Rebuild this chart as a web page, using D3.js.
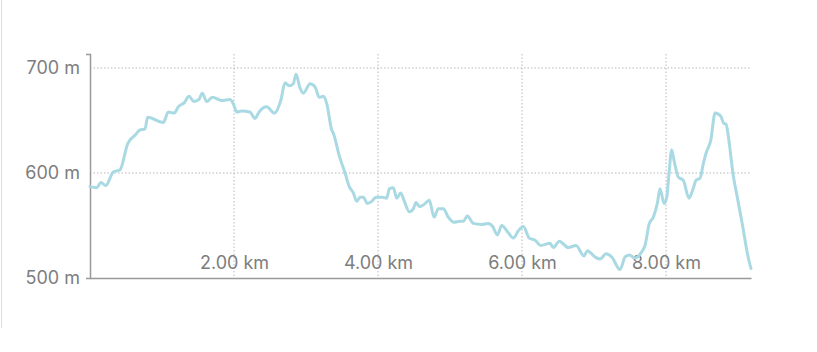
<!DOCTYPE html>
<html>
<head>
<meta charset="utf-8">
<script src="https://cdn.jsdelivr.net/npm/d3@7"></script>
<style>
  body { margin: 0; background: #fff; }
  svg text { font-family: Inter, "Liberation Sans", sans-serif; fill: #7d7d7d; }
</style>
</head>
<body>
<svg id="chart" width="817" height="352"></svg>
<script>
// distance along the route (km) and elevation (m)
const distanceKm = [
  0, 0.093, 0.153, 0.218, 0.324, 0.417, 0.524, 0.625, 0.694, 0.764,
  0.801, 1.018, 1.088, 1.171, 1.226, 1.31, 1.375, 1.444, 1.514, 1.56,
  1.621, 1.699, 1.829, 1.944, 1.99, 2.038, 2.107, 2.222, 2.292, 2.347,
  2.454, 2.56, 2.653, 2.708, 2.764, 2.824, 2.861, 2.917, 2.963, 3.056,
  3.125, 3.185, 3.24, 3.288, 3.357, 3.379, 3.463, 3.542, 3.601, 3.657,
  3.704, 3.75, 3.796, 3.851, 3.913, 3.972, 4.051, 4.121, 4.157, 4.213,
  4.26, 4.315, 4.361, 4.435, 4.49, 4.528, 4.574, 4.639, 4.713, 4.778,
  4.838, 4.907, 4.976, 5.056, 5.139, 5.185, 5.24, 5.324, 5.44, 5.532,
  5.593, 5.657, 5.718, 5.81, 5.879, 5.949, 6.018, 6.101, 6.181, 6.26,
  6.389, 6.435, 6.518, 6.643, 6.75, 6.861, 6.907, 7.014, 7.083, 7.167,
  7.246, 7.361, 7.431, 7.49, 7.569, 7.663, 7.708, 7.768, 7.824, 7.879,
  7.917, 7.972, 8.01, 8.042, 8.079, 8.111, 8.171, 8.24, 8.319, 8.371,
  8.417, 8.472, 8.518, 8.556, 8.621, 8.681, 8.76, 8.806, 8.833, 8.865,
  8.935, 8.99, 9.065, 9.143, 9.18
];
const elevationM = [
  587, 586, 591, 588, 601, 603, 628, 636, 641, 642,
  653, 648, 658, 657, 663, 667, 673, 668, 670, 676,
  668, 672, 669, 670, 666, 658, 659, 658, 652, 658,
  663, 657, 670, 686, 683, 685, 694, 681, 676, 685,
  682, 672, 673, 666, 641, 638, 616, 600, 587, 581,
  573, 577, 577, 571, 573, 577, 577, 576, 585, 586,
  576, 581, 574, 563, 566, 572, 568, 570, 574, 558,
  566, 566, 558, 553, 554, 554, 559, 552, 551, 552,
  549, 541, 550, 543, 538, 545, 549, 538, 536, 531,
  533, 529, 535, 529, 531, 521, 526, 520, 518, 523,
  520, 508, 520, 522, 519, 525, 531, 552, 558, 571,
  585, 571, 577, 600, 622, 612, 596, 593, 576, 584,
  593, 595, 609, 619, 631, 657, 654, 647, 647, 635,
  597, 577, 549, 519, 509
];
const xTicks = [2, 4, 6, 8];
const yTicks = [500, 600, 700];
const xDomain = [0, 9.18];
const yDomain = [500, 713.3];

const margin = { top: 54, right: 66, bottom: 74, left: 90 };
const svg = d3.select('#chart');
const width = +svg.attr('width') - margin.left - margin.right;
const height = +svg.attr('height') - margin.top - margin.bottom;

// thin frame line on the left edge of the card
svg.append('line')
  .attr('x1', 1.5).attr('x2', 1.5)
  .attr('y1', 0).attr('y2', 328)
  .attr('stroke', '#dcdcdc');

const g = svg.append('g').attr('transform', `translate(${margin.left},${margin.top})`);

const x = d3.scaleLinear().domain(xDomain).range([0, width]);
const y = d3.scaleLinear().domain(yDomain).range([height, 0]);

// grid
g.append('g')
  .selectAll('line')
  .data(yTicks.filter((d) => d > yDomain[0]))
  .join('line')
  .attr('x1', 0).attr('x2', width)
  .attr('y1', (d) => y(d)).attr('y2', (d) => y(d))
  .attr('stroke', '#b8b8b8')
  .attr('stroke-dasharray', '1.5,2');

g.append('g')
  .selectAll('line')
  .data(xTicks)
  .join('line')
  .attr('x1', (d) => x(d)).attr('x2', (d) => x(d))
  .attr('y1', 0).attr('y2', height)
  .attr('stroke', '#b8b8b8')
  .attr('stroke-dasharray', '1.5,2');

// y axis
const yAxis = g.append('g')
  .call(d3.axisLeft(y).tickValues(yTicks).tickSizeInner(0).tickSizeOuter(4).tickPadding(10)
    .tickFormat((d) => `${d} m`));
yAxis.select('.domain').attr('stroke', '#999').attr('stroke-width', 1.5);
yAxis.selectAll('text').attr('font-size', 18).attr('fill', '#7d7d7d');

// x axis, labels sit above the baseline
const xAxis = g.append('g')
  .attr('transform', `translate(0,${height})`)
  .call(d3.axisTop(x).tickValues(xTicks).tickSizeInner(0).tickSizeOuter(0).tickPadding(9)
    .tickFormat((d) => `${d.toFixed(2)} km`));
xAxis.select('.domain').attr('stroke', '#999').attr('stroke-width', 1.5);
xAxis.selectAll('text').attr('font-size', 18).attr('fill', '#7d7d7d');

// elevation profile
const line = d3.line()
  .x((d, i) => x(distanceKm[i]))
  .y((d) => y(d))
  .curve(d3.curveMonotoneX);

g.append('path')
  .datum(elevationM)
  .attr('fill', 'none')
  .attr('stroke', '#a9dae3')
  .attr('stroke-width', 3)
  .attr('stroke-linejoin', 'round')
  .attr('stroke-linecap', 'round')
  .attr('d', line);
</script>
</body>
</html>
